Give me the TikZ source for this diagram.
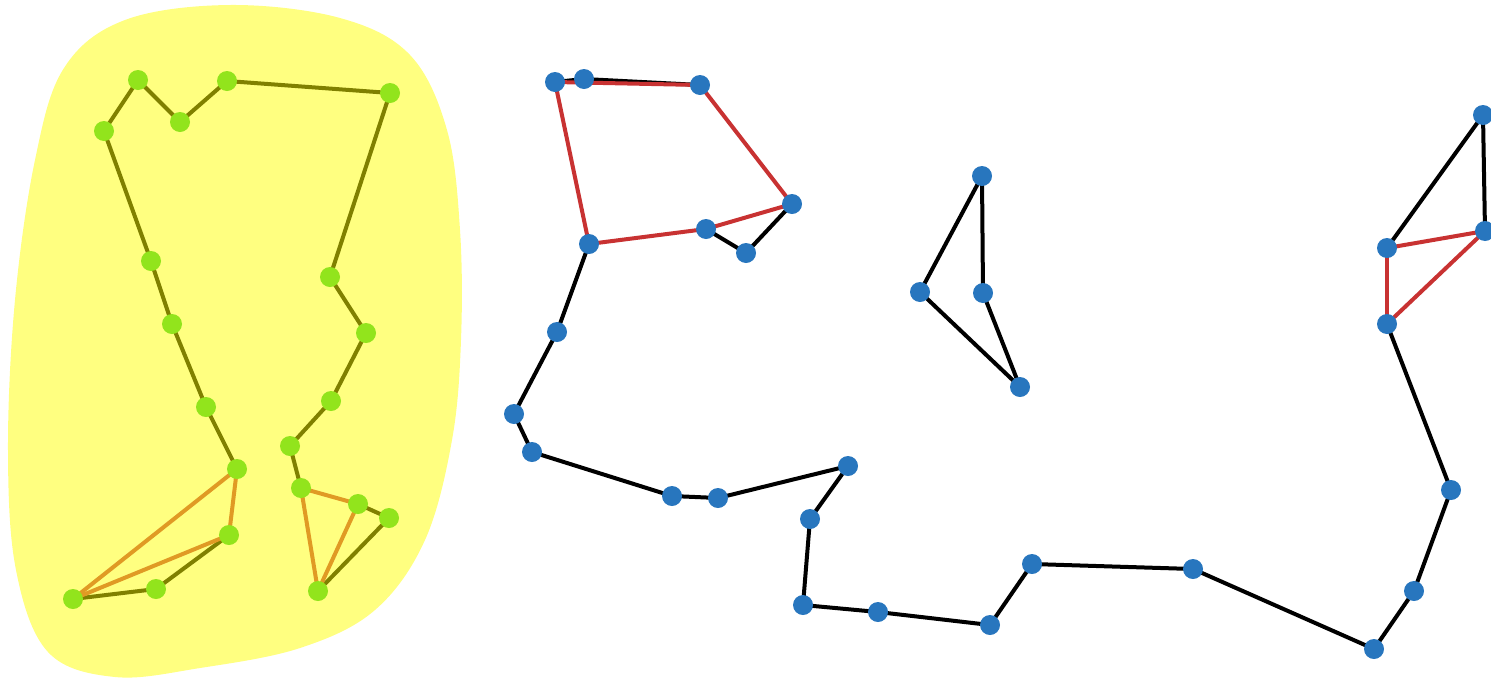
\documentclass[tikz,border=0pt]{standalone}
\definecolor{blobyellow}{RGB}{255,255,128}
\definecolor{limegreen}{RGB}{146,228,28}
\definecolor{oliveedge}{RGB}{128,128,0}
\definecolor{orangeedge}{RGB}{224,154,36}
\definecolor{bluenode}{RGB}{40,118,190}
\definecolor{rededge}{RGB}{200,50,50}
\pgfdeclarelayer{blob}
\pgfdeclarelayer{edges}
\pgfsetlayers{blob,edges,main}
\tikzset{
  gnode/.style={circle,fill=limegreen,inner sep=0pt,minimum size=20pt},
  bnode/.style={circle,fill=bluenode,inner sep=0pt,minimum size=20pt},
  oedge/.style={draw=oliveedge,line width=4pt},
  aedge/.style={draw=orangeedge,line width=4pt},
  kedge/.style={draw=black,line width=4pt},
  redge/.style={draw=rededge,line width=4pt},
}
\begin{document}
\begin{tikzpicture}[x=1pt,y=-1pt]
\useasboundingbox (0,0) rectangle (1491,678);
% yellow blob
\begin{pgfonlayer}{blob}
\fill[blobyellow] plot[smooth cycle,tension=0.6] coordinates {
 (230,5) (340,18) (410,55) (447,130) (460,230) (461,340) (452,440) (425,540)
 (375,610) (300,648) (200,668) (115,677) (48,652) (16,570) (8,450) (15,300)
 (35,160) (64,68) (125,20)};
\end{pgfonlayer}
% green graph nodes
\foreach \n/\x/\y in {1/138/80,2/104/131,3/180/122,4/227/81,5/390/93,6/151/261,
 7/172/324,8/206/407,9/237/469,10/229/535,11/73/599,12/156/589,13/330/277,
 14/366/333,15/331/401,16/290/446,17/301/488,18/358/504,19/389/518,20/318/591}
 \node[gnode] (G\n) at (\x,\y) {};
\begin{pgfonlayer}{edges}
\foreach \a/\b in {2/1,1/3,3/4,4/5,2/6,6/7,7/8,8/9,11/12,12/10,
  5/13,13/14,14/15,15/16,16/17,18/19,19/20}
  \draw[oedge] (G\a.center) -- (G\b.center);
\foreach \a/\b in {9/10,9/11,10/11,17/18,17/20,18/20}
  \draw[aedge] (G\a.center) -- (G\b.center);
\end{pgfonlayer}
% blue graph nodes
\foreach \n/\x/\y in {1/555/82,2/584/79,3/700/85,4/792/204,5/706/229,6/746/253,
 7/589/244,8/557/332,9/514/414,10/532/452,11/672/496,12/718/498,13/848/466,
 14/810/519,15/803/605,16/878/612,17/990/625,18/1032/564,19/1193/569,
 20/1374/649,21/1414/591,22/1451/490,23/1387/324,24/1387/248,25/1483/115,
 26/1485/231,27/982/176,28/920/292,29/983/293,30/1020/387}
 \node[bnode] (B\n) at (\x,\y) {};
\begin{pgfonlayer}{edges}
\foreach \a/\b in {1/2,2/3,5/6,6/4,7/8,8/9,9/10,10/11,11/12,12/13,
  13/14,14/15,15/16,16/17,17/18,18/19,19/20,20/21,21/22,22/23,
  24/25,25/26,27/28,27/29,28/30,29/30}
  \draw[kedge] (B\a.center) -- (B\b.center);
\foreach \a/\b in {1/3,1/7,3/4,7/5,5/4,23/24,24/26,23/26}
  \draw[redge] (B\a.center) -- (B\b.center);
\end{pgfonlayer}
\end{tikzpicture}
\end{document}
